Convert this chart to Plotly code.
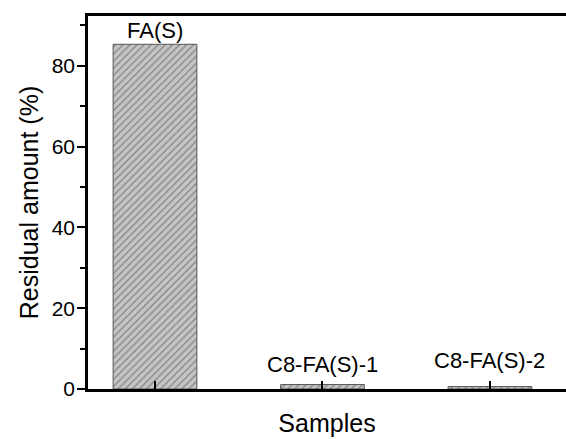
import plotly.graph_objects as go

# Residual amount of each sample
samples = ["FA(S)", "C8-FA(S)-1", "C8-FA(S)-2"]
residual_pct = [85.3, 1.1, 0.6]

# Vertical lift (px) of each value label above its bar
label_lift_px = [-1, 6, 12]

FONT = "Arial, 'Liberation Sans', sans-serif"
x_pos = list(range(len(samples)))

fig = go.Figure()
fig.add_trace(go.Bar(
    x=x_pos,
    y=residual_pct,
    width=0.5,
    marker=dict(
        color="#c4c4c4",
        line=dict(color="#555555", width=1),
        pattern=dict(shape="/", fgcolor="#3a3a3a", bgcolor="#c4c4c4",
                     size=5, solidity=0.22),
    ),
    showlegend=False,
))

for xi, name, val, lift in zip(x_pos, samples, residual_pct, label_lift_px):
    fig.add_annotation(
        x=xi, y=val, text=name, showarrow=False,
        xanchor="center", yanchor="bottom", yshift=lift,
        font=dict(family=FONT, size=22, color="black"),
    )

fig.update_layout(
    width=566, height=439,
    margin=dict(l=88, r=0, t=16, b=50),
    paper_bgcolor="white", plot_bgcolor="white",
    font=dict(family=FONT, color="black"),
)

fig.update_xaxes(
    range=[-0.4, 2.454],
    tickvals=x_pos, showticklabels=False,
    ticks="inside", ticklen=8, tickwidth=2, tickcolor="black",
    showline=True, linecolor="black", linewidth=2.5, mirror=True,
    showgrid=False, zeroline=False,
    title=dict(text="Samples", font=dict(family=FONT, size=25), standoff=24),
)

fig.update_yaxes(
    range=[0, 92.3],
    tickvals=[0, 20, 40, 60, 80],
    ticks="outside", ticklen=8, tickwidth=2, tickcolor="black",
    tickfont=dict(family=FONT, size=21),
    ticklabelstandoff=-2,
    minor=dict(tickvals=[10, 30, 50, 70, 90], ticks="outside", ticklen=5,
               tickwidth=2, tickcolor="black", showgrid=False),
    showline=True, linecolor="black", linewidth=2.5, mirror=False,
    showgrid=False, zeroline=False,
    title=dict(text="Residual amount (%)", font=dict(family=FONT, size=25),
               standoff=6),
)

fig.write_html("out.html")
